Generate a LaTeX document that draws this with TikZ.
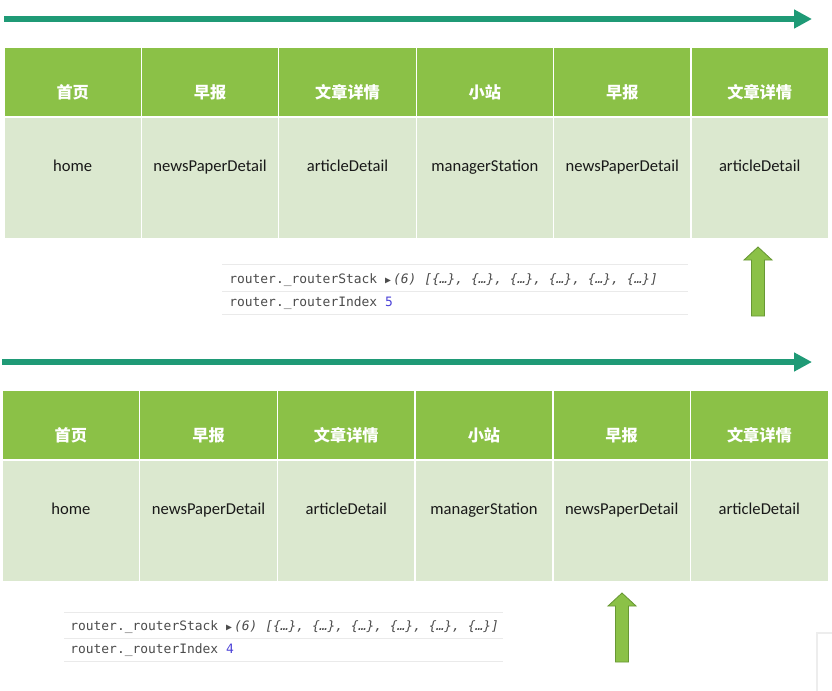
\documentclass[tikz,border=0pt]{standalone}
\usepackage{fontspec}
\setmainfont{Carlito}
\newfontfamily\cjk{Noto Sans CJK SC}
\newfontfamily\consolefont{DejaVu Sans Mono}
\usetikzlibrary{arrows.meta, positioning}
\definecolor{headgreen}{RGB}{139,193,71}
\definecolor{bodygreen}{RGB}{219,232,207}
\definecolor{timeteal}{RGB}{31,154,118}
\definecolor{arrowedge}{RGB}{104,152,52}
\definecolor{consolegray}{RGB}{75,75,75}
\definecolor{consolerule}{RGB}{234,234,234}
\definecolor{indexblue}{RGB}{75,65,215}

\begin{document}
\begin{tikzpicture}[x=0.025cm, y=-0.025cm,
    headcell/.style={rectangle, fill=headgreen, draw=white, line width=0.8pt, minimum width=3.435cm, minimum height=1.75cm, inner sep=0pt},
    bodycell/.style={rectangle, fill=bodygreen, draw=white, line width=0.8pt, minimum width=3.435cm, minimum height=3.05cm, inner sep=0pt},
    headtext/.style={text=white, font=\cjk\bfseries\fontsize{11.5}{13}\selectfont, text height=1.6ex, text depth=0.3ex, inner sep=0pt, yshift=-0.31cm},
    bodytext/.style={text=black!90, font=\fontsize{11.8}{13}\selectfont, text height=1.6ex, text depth=0.4ex, inner sep=0pt, yshift=0.26cm},
    timeline/.style={-{Triangle[length=0.45cm, width=0.45cm]}, draw=timeteal, line width=0.15cm},
    console/.style={anchor=west, inner sep=0pt, text=consolegray, font=\consolefont\fontsize{9.2}{11}\selectfont},
    rulecon/.style={draw=consolerule, line width=0.6pt},
    pointer/.style={fill=headgreen, draw=arrowedge, line width=0.6pt}
]
\useasboundingbox (0,0) rectangle (832,690);

% upper timeline
\coordinate (upper-start) at (4,19);
\coordinate (upper-end) at (812,19);
\draw[timeline] (upper-start) -- (upper-end);

\foreach \zh/\en [count=\i] in {首页/home, 早报/newsPaperDetail, 文章详情/articleDetail, 小站/managerStation, 早报/newsPaperDetail, 文章详情/articleDetail} {
    \node[headcell, label={[headtext]center:\zh}] (upper-head-\i) at ({4+137.4*(\i-0.5)}, 82) {};
    \node[bodycell, label={[bodytext]center:\en}] (upper-body-\i) at ({4+137.4*(\i-0.5)}, 178) {};
}

\draw[rulecon] (222,264) -- (688,264) (222,291) -- (688,291) (222,314) -- (688,314);
\node[console] (upper-stack) at (229,280) {router.\_routerStack {\fontsize{7}{7}\selectfont▶}\,\textit{(6) [\{…\}, \{…\}, \{…\}, \{…\}, \{…\}, \{…\}]}};
\node[console] (upper-index) at (229,303) {router.\_routerIndex \textcolor{indexblue}{5}};

\coordinate (upper-tip) at (758,247);
\draw[pointer] (upper-tip) -- ++(14,13) -- ++(-7.5,0) -- ++(0,56) -- ++(-13,0) -- ++(0,-56) -- ++(-7.5,0) -- cycle;

% lower timeline
\coordinate (lower-start) at (2,362);
\coordinate (lower-end) at (812,362);
\draw[timeline] (lower-start) -- (lower-end);

\foreach \zh/\en [count=\i] in {首页/home, 早报/newsPaperDetail, 文章详情/articleDetail, 小站/managerStation, 早报/newsPaperDetail, 文章详情/articleDetail} {
    \node[headcell, label={[headtext]center:\zh}] (lower-head-\i) at ({2+137.7*(\i-0.5)}, 425) {};
    \node[bodycell, label={[bodytext]center:\en}] (lower-body-\i) at ({2+137.7*(\i-0.5)}, 521) {};
}

\draw[rulecon] (64,612) -- (503,612) (64,638) -- (503,638) (64,661) -- (503,661);
\node[console] (lower-stack) at (70,627) {router.\_routerStack {\fontsize{7}{7}\selectfont▶}\,\textit{(6) [\{…\}, \{…\}, \{…\}, \{…\}, \{…\}, \{…\}]}};
\node[console] (lower-index) at (70,650) {router.\_routerIndex \textcolor{indexblue}{4}};

\coordinate (lower-tip) at (622,593);
\draw[pointer] (lower-tip) -- ++(14,13) -- ++(-7.5,0) -- ++(0,56) -- ++(-13,0) -- ++(0,-56) -- ++(-7.5,0) -- cycle;

% corner panel
\draw[draw=black!7, line width=1pt, fill=white] (817,633) rectangle (834,692);
\end{tikzpicture}
\end{document}
